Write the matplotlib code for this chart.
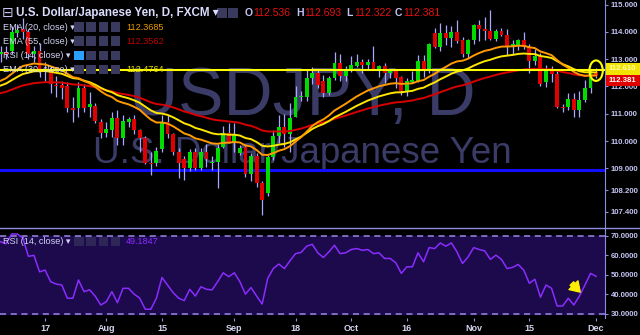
import numpy as np
import pandas as pd
import matplotlib
matplotlib.use("Agg")
import matplotlib.pyplot as plt
from matplotlib.patches import Rectangle, Ellipse
from matplotlib.lines import Line2D

# daily USD/JPY bars, 5 Jul 2017 .. 1 Dec 2017 (FXCM)
dates = pd.bdate_range("2017-07-05", "2017-12-01")

opens = [113.20, 113.25, 113.30, 113.95, 114.10, 114.00, 113.20, 113.30,
         112.60, 112.55, 112.05, 112.05, 112.00, 111.20, 111.20, 111.95, 111.25, 111.30, 110.70, 110.30,
         110.40, 110.85, 110.10, 110.70, 110.80, 110.40, 110.10, 109.20, 109.20, 109.70, 110.70, 110.25,
         109.60, 109.35, 109.00, 109.60, 109.00, 109.60, 109.20, 109.25, 109.80, 110.30,
         109.97, 109.55, 109.80, 108.80, 109.45, 108.45, 108.10, 109.40, 110.20, 110.50, 110.25,
         110.90, 111.60, 111.60, 112.30, 112.50, 112.20, 111.75, 112.30, 112.85, 112.40,
         112.55, 112.75, 112.90, 112.80, 112.90, 112.60, 112.75, 112.50, 112.55, 112.35,
         111.85, 112.15, 112.20, 112.95, 112.60, 113.95, 113.45, 113.95, 113.78, 114.00, 113.70, 113.20,
         113.70, 114.25, 114.10, 114.05, 113.75, 114.05, 113.90, 113.45, 113.50, 113.70, 113.45,
         112.95, 113.10, 112.15, 112.65, 112.45, 111.25, 111.25, 111.55, 111.15, 111.50, 111.95, 112.536]
highs = [113.50, 113.50, 114.20, 114.30, 114.50, 114.10, 113.50, 113.60,
         112.90, 112.75, 112.40, 112.20, 112.15, 111.60, 112.15, 112.10, 111.80, 111.40, 110.80, 110.70,
         111.05, 111.15, 110.95, 110.90, 110.95, 110.45, 110.20, 109.60, 109.80, 110.95, 110.95, 110.30,
         109.75, 109.45, 109.70, 109.75, 109.75, 109.90, 109.45, 109.90, 110.55, 110.67,
         110.67, 109.85, 109.90, 109.55, 109.55, 108.55, 109.50, 110.40, 110.95, 111.00, 111.40,
         112.00, 111.85, 112.60, 112.70, 112.60, 112.43, 112.40, 113.27, 113.20, 112.75,
         113.10, 113.20, 113.00, 113.00, 113.50, 112.80, 112.85, 112.65, 112.65, 112.40,
         112.30, 112.55, 113.15, 113.15, 113.60, 114.15, 114.33, 114.26, 114.20, 114.45, 113.82, 113.75,
         114.30, 114.45, 114.55, 114.80, 114.10, 114.15, 114.10, 113.70, 113.75, 114.00, 113.55,
         113.37, 113.22, 112.79, 112.75, 112.55, 111.35, 111.75, 111.76, 111.85, 112.25, 112.65, 112.693]
lows = [112.90, 113.00, 113.20, 113.80, 113.75, 113.00, 112.90, 112.35,
        112.20, 111.75, 111.60, 111.55, 111.05, 110.70, 110.90, 111.05, 110.90, 110.65, 110.10, 110.15,
        110.15, 109.85, 109.85, 110.50, 110.25, 109.60, 109.15, 108.75, 109.10, 109.60, 110.10, 109.50,
        108.65, 108.57, 108.90, 108.95, 108.95, 109.05, 108.95, 108.28, 109.75, 109.93,
        109.60, 109.50, 108.70, 108.55, 108.30, 107.30, 108.00, 109.30, 109.93, 109.80, 109.60,
        110.90, 111.45, 111.45, 112.10, 111.95, 111.60, 111.70, 112.25, 112.20, 112.20,
        112.53, 112.70, 112.50, 112.60, 112.60, 112.35, 112.13, 112.30, 111.95, 111.70,
        111.65, 112.13, 112.17, 112.35, 112.50, 113.40, 113.30, 113.52, 113.45, 113.60, 113.08, 113.05,
        113.55, 113.65, 113.70, 113.70, 113.65, 113.85, 113.15, 113.20, 113.35, 113.38, 112.50,
        112.80, 112.00, 111.98, 112.15, 111.20, 111.05, 111.15, 110.90, 110.90, 111.43, 111.75, 112.322]
closes = [113.25, 113.20, 114.00, 114.08, 114.00, 113.20, 113.30, 112.65,
          112.65, 112.10, 112.00, 111.95, 111.20, 111.15, 111.95, 111.20, 111.35, 110.75, 110.30, 110.45,
          110.85, 110.10, 110.75, 110.80, 110.40, 110.10, 109.20, 109.15, 109.65, 110.70, 110.25, 109.60,
          109.20, 109.00, 109.60, 109.00, 109.60, 109.35, 109.25, 109.75, 110.30, 109.95,
          110.25, 109.75, 108.80, 109.45, 108.45, 107.85, 109.40, 110.20, 110.50, 110.25, 110.85,
          111.60, 111.62, 112.30, 112.50, 112.05, 111.75, 112.30, 112.85, 112.40, 112.55,
          112.80, 112.90, 112.80, 112.88, 112.65, 112.75, 112.50, 112.55, 112.30, 111.85,
          112.20, 112.22, 112.95, 112.60, 113.55, 113.45, 113.95, 113.78, 114.00, 113.67, 113.20, 113.70,
          114.25, 114.12, 114.05, 113.75, 114.05, 113.90, 113.50, 113.55, 113.70, 113.45, 112.95,
          113.10, 112.10, 112.65, 112.45, 111.25, 111.22, 111.55, 111.15, 111.50, 111.95, 112.55, 112.381]

rsi = [67.0, 66.0, 71.0, 71.0, 69.0, 59.5, 60.0, 51.5,
       52.4, 46.4, 45.2, 44.7, 37.9, 37.9, 47.3, 41.3, 42.2, 39.0, 34.4, 36.1,
       41.3, 35.6, 43.0, 43.0, 40.0, 37.9, 32.2, 32.2, 37.9, 48.6, 44.7, 40.8,
       37.9, 36.7, 42.5, 39.0, 43.8, 42.5, 42.2, 46.4, 51.0, 49.0,
       51.0, 46.4, 40.0, 43.4, 39.0, 34.9, 48.1, 53.2, 55.5, 53.2, 57.2,
       60.9, 61.5, 64.7, 65.7, 61.3, 58.9, 61.8, 65.2, 60.9, 61.3,
       63.0, 63.5, 62.6, 63.0, 60.9, 61.3, 58.4, 58.4, 56.2, 50.7,
       54.1, 54.1, 61.3, 56.7, 64.0, 63.5, 66.4, 64.7, 66.4, 61.8, 55.8, 59.2,
       64.0, 63.0, 62.3, 57.9, 60.1, 57.9, 53.2, 53.8, 55.3, 52.4, 45.6,
       47.7, 38.4, 44.7, 43.0, 33.9, 33.9, 37.9, 34.4, 39.0, 44.7, 50.7, 49.1847]

# EMA values on the first visible bar (history before the window)
ema20_start = 112.10
ema30_start = 111.95
ema55_start = 111.70

hline_level = 112.610
support_level = 108.95

price_ticks = [115.0, 114.0, 113.0, 112.0, 111.0, 110.0, 109.0, 108.2, 107.4]
rsi_ticks = [70, 60, 50, 40, 30]
date_ticks = ["2017-07-17", "2017-08-01", "2017-08-15", "2017-09-01", "2017-09-18",
              "2017-10-02", "2017-10-16", "2017-11-01", "2017-11-15", "2017-12-01"]
date_labels = ["17", "Aug", "15", "Sep", "18", "Oct", "16", "Nov", "15", "Dec"]


def ema(values, span, start):
    alpha = 2.0 / (span + 1)
    out = []
    prev = start
    for v in values:
        prev = prev + alpha * (v - prev)
        out.append(prev)
    return out


W, H = 640, 335
def fx(x):
    return x / W
def fy(y):
    return 1 - y / H

FONT = ["Liberation Sans", "DejaVu Sans"]
BG = "#000000"
AXC = "#8c8ce0"
LBL = "#c4c4f4"
GREEN = "#00dc00"
RED = "#e00000"
WICK = "#a8a8ff"

fig = plt.figure(figsize=(6.4, 3.35), dpi=100, facecolor=BG)
ax = fig.add_axes([0, fy(227), fx(605), 1 - fy(227)], facecolor=BG)
ax2 = fig.add_axes([0, fy(318), fx(605), fy(228) - fy(318)], facecolor=BG)

x = np.arange(len(dates))
last = x[-1]
o = np.array(opens); h = np.array(highs); l = np.array(lows); c = np.array(closes)
up = c >= o
xlim = (-0.1, last + 1.6)

# watermark
ax.text(0.5, 1 - 115 / 227, "USDJPY, D", transform=ax.transAxes, ha="center", va="baseline",
        fontsize=49, color="#3b3b68", family=FONT, zorder=0)
ax.text(0.5, 1 - 163 / 227, "U.S. Dollar/Japanese Yen", transform=ax.transAxes, ha="center",
        va="baseline", fontsize=26.5, color="#3b3b68", family=FONT, zorder=0)

# horizontal lines
ax.axhline(support_level, color="#1010ff", lw=2.2, zorder=1)
ax.axhline(hline_level, color="#ffff00", lw=1.5, zorder=5)

# candles
ax.vlines(x, l, h, color=WICK, lw=0.9, zorder=2)
body_lo = np.minimum(o, c)
body_h = np.maximum(np.abs(c - o), 0.035)
ax.bar(x, body_h, bottom=body_lo, width=0.7, color=np.where(up, GREEN, RED),
       linewidth=0, zorder=3)

# moving averages
ax.plot(x, ema(closes, 55, ema55_start), color="#d80000", lw=1.4, zorder=4)
ax.plot(x, ema(closes, 30, ema30_start), color="#ffe600", lw=1.4, zorder=4)
ax.plot(x, ema(closes, 20, ema20_start), color="#ff9a00", lw=1.4, zorder=4)

ax.add_patch(Ellipse((last, 112.58), 2.4, 0.75, fill=False, ec="#ffff00", lw=1.5, zorder=6))

ax.set_xlim(*xlim)
ax.set_ylim(106.85, 115.17)
ax.yaxis.tick_right()
ax.set_yticks(price_ticks)
ax.set_yticklabels(["%.3f" % v for v in price_ticks], family=FONT, fontweight="bold")
ax.tick_params(axis="y", colors=AXC, labelcolor=LBL, labelsize=5.6, length=2.5, pad=1.5)
ax.set_xticks([])
for s in ["top", "left", "bottom"]:
    ax.spines[s].set_visible(False)
ax.spines["right"].set_color(AXC)

# RSI pane
ax2.axhspan(30, 70, color="#1c0a4c", zorder=0)
ax2.axhline(70, color="#9a8ae0", lw=1.1, ls=(0, (4, 3)), zorder=1)
ax2.axhline(30, color="#9a8ae0", lw=1.1, ls=(0, (4, 3)), zorder=1)
ax2.plot(x, rsi, color="#8a2cff", lw=1.1, zorder=3)
ax2.annotate("", xy=(last - 2.5, 40.0), xytext=(last - 4.7, 46.5),
             arrowprops=dict(arrowstyle="simple,head_width=0.9,head_length=0.7,tail_width=0.35",
                             fc="#ffee00", ec="#ffee00"), zorder=4)
ax2.set_xlim(*xlim)
ax2.set_ylim(27.7, 74.1)
ax2.yaxis.tick_right()
ax2.set_yticks(rsi_ticks)
ax2.set_yticklabels(["%.4f" % v for v in rsi_ticks], family=FONT, fontweight="bold")
tick_pos = [dates.get_loc(pd.Timestamp(d)) for d in date_ticks]
ax2.set_xticks(tick_pos)
ax2.set_xticklabels(date_labels, fontweight="bold", family=FONT)
ax2.tick_params(axis="y", colors=AXC, labelcolor=LBL, labelsize=5.6, length=2.5, pad=1.5)
ax2.tick_params(axis="x", colors=AXC, labelcolor="#d4d4ee", labelsize=6.5, length=2, pad=2)
for s in ["left", "bottom"]:
    ax2.spines[s].set_visible(False)
ax2.spines["right"].set_color(AXC)
ax2.spines["top"].set_visible(False)

# pane separator across the full width
fig.lines.append(Line2D([0, 1], [fy(227.5), fy(227.5)], transform=fig.transFigure,
                        color=AXC, lw=1))

# header
fig.text(fx(2), fy(13), "\u229f", fontsize=10, color=LBL, va="center", family=["DejaVu Sans"])
fig.text(fx(16), fy(13), "U.S. Dollar/Japanese Yen, D, FXCM \u25be", fontsize=8.4,
         fontweight="bold", color="#dcdcff", va="center", family=FONT)
for xx in (217, 228):
    fig.patches.append(Rectangle((fx(xx), fy(18)), fx(10), fy(8) - fy(18),
                                 transform=fig.transFigure, fc="#3a3a5e", ec="none"))
for lab, val, xx in [("O", "112.536", 245), ("H", "112.693", 296),
                     ("L", "112.322", 346), ("C", "112.381", 395)]:
    fig.text(fx(xx), fy(13), lab, fontsize=7.5, fontweight="bold", color=LBL, va="center",
             family=FONT)
    fig.text(fx(xx + 8), fy(13), val, fontsize=7.5, color="#e81010", va="center",
             family=FONT)

legend_rows = [("EMA (20, close) \u25be", "112.3685", "#e89a00", 27),
               ("EMA (55, close) \u25be", "112.3562", "#c00000", 41),
               ("RSI (14, close) \u25be", "", "", 55),
               ("EMA (30, close) \u25be", "112.4764", "#e8e000", 69)]
for name, val, col, yy in legend_rows:
    fig.text(fx(3), fy(yy), name, fontsize=6.6, color="#d4d4f4", va="center", family=FONT)
    for k in range(4):
        fc = "#2aa0ff" if (name[0] == "R" and k == 0) else "#3a3a5e"
        fig.patches.append(Rectangle((fx(74 + 12.3 * k), fy(yy + 4.5)), fx(9.5),
                                     fy(yy - 4.5) - fy(yy + 4.5),
                                     transform=fig.transFigure, fc=fc, ec="none", zorder=5))
    if val:
        fig.text(fx(126), fy(yy), val, fontsize=6.6, color=col, va="center", family=FONT)

fig.text(fx(3), fy(241), "RSI (14, close) \u25be", fontsize=6.6, color="#d4d4f4", va="center",
         family=FONT)
for k in range(4):
    fig.patches.append(Rectangle((fx(74 + 12.3 * k), fy(245.5)), fx(9.5), fy(236.5) - fy(245.5),
                                 transform=fig.transFigure, fc="#3a3a5e", ec="none", alpha=0.6))
fig.text(fx(126), fy(241), "49.1847", fontsize=6.6, color="#8a2cff", va="center", family=FONT)

# price labels on the axis
fig.patches.append(Rectangle((fx(606), fy(75)), fx(34), fy(63) - fy(75),
                             transform=fig.transFigure, fc="#f0e400", ec="none", zorder=6))
fig.text(fx(609), fy(69), "112.610", fontsize=5.6, color="#fffbb0", va="center", zorder=7,
         family=FONT, fontweight="bold")
fig.patches.append(Rectangle((fx(606), fy(86)), fx(34), fy(75) - fy(86),
                             transform=fig.transFigure, fc="#e00000", ec="none", zorder=6))
fig.text(fx(609), fy(80.5), "112.381", fontsize=5.6, color="white", fontweight="bold",
         va="center", zorder=7, family=FONT)

fig.savefig("out.png", dpi=100, facecolor=BG)
